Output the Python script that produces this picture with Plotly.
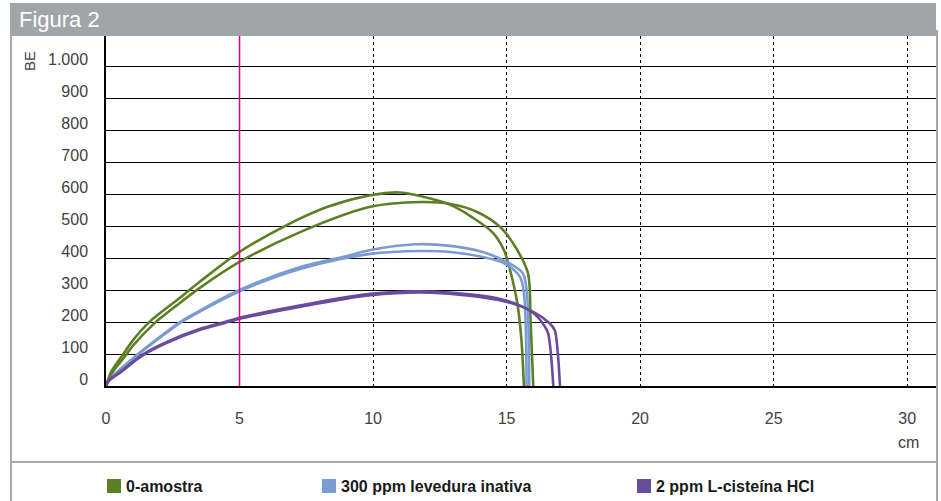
import plotly.graph_objects as go

# ---------------- data ----------------
series_names = ["0-amostra", "300 ppm levedura inativa", "2 ppm L-cisteína HCl"]
series_colors = ["#5d7f24", "#7b9bd3", "#6a4b9c"]

# 0-amostra, replicate A / B
green_a_x = [0, 0.2, 0.65, 1.0, 1.65, 2.65, 3.5, 5, 6.7, 8.3, 9.9, 11.0, 11.8, 12.9, 13.7, 14.5, 14.9, 15.1, 15.4, 15.55, 15.65]
green_a_y = [0, 45, 100, 142, 202, 268, 325, 419, 500, 560, 596, 605, 593, 566, 528, 478, 425, 372, 260, 150, 0]
green_b_x = [0, 0.2, 0.78, 1.0, 1.8, 2.65, 3.5, 5, 7.27, 9.9, 11.8, 12.9, 13.9, 14.8, 15.4, 15.8, 15.9, 16.0]
green_b_y = [0, 38, 100, 125, 195, 252, 306, 388, 481, 560, 575, 569, 544, 494, 425, 353, 200, 0]

# 300 ppm levedura inativa, replicate A / B
blue_a_x = [0, 0.15, 0.64, 1.2, 2.28, 2.77, 3.5, 5, 7.27, 8.95, 9.9, 11.6, 12.9, 14.1, 15.0, 15.6, 15.75, 15.85]
blue_a_y = [0, 22, 60, 100, 170, 200, 235, 300, 372, 405, 425, 443, 438, 419, 388, 353, 300, 0]
blue_b_x = [0, 0.15, 0.64, 1.2, 2.28, 2.77, 3.5, 5, 7.27, 9.9, 11.8, 12.9, 14.1, 14.9, 15.5, 15.65, 15.75]
blue_b_y = [0, 20, 58, 98, 167, 197, 232, 296, 366, 413, 422, 419, 403, 384, 341, 290, 0]

# 2 ppm L-cisteína HCl, replicate A / B
purple_a_x = [0, 0.1, 0.5, 1.4, 2.28, 3.5, 4.45, 5, 7.3, 9.9, 12.2, 14.9, 16.0, 16.4, 16.55, 16.75]
purple_a_y = [0, 18, 42, 100, 138, 178, 200, 213, 252, 288, 295, 269, 228, 190, 166, 0]
purple_b_x = [0, 0.1, 0.5, 1.4, 2.28, 3.5, 4.45, 5, 7.3, 9.9, 12.2, 14.9, 16.0, 16.6, 16.8, 16.9, 17.0]
purple_b_y = [0, 16, 40, 97, 135, 175, 197, 210, 248, 284, 292, 265, 232, 197, 175, 120, 0]

y_tickvals = [0, 100, 200, 300, 400, 500, 600, 700, 800, 900, 1000]
y_ticktext = ["0", "100", "200", "300", "400", "500", "600", "700", "800", "900", "1.000"]
x_tickvals = [0, 5, 10, 15, 20, 25, 30]
x_ticktext = ["0", "5", "10", "15", "20", "25", "30"]
highlight_x = 5

title_text = "Figura 2"
y_title = "BE"
x_title = "cm"

# ---------------- figure ----------------
W, H = 941, 501
ML, MR, MT, MB = 106, 5, 36, 115
PW = W - ML - MR
PH = H - MT - MB


def px_x(p):
    return (p - ML) / PW


def px_y(p):
    return (H - MB - p) / PH


FONT = "Liberation Sans, Arial, Helvetica, sans-serif"
TXT = "#404040"

fig = go.Figure()
groups = [
    [(green_a_x, green_a_y), (green_b_x, green_b_y)],
    [(blue_a_x, blue_a_y), (blue_b_x, blue_b_y)],
    [(purple_a_x, purple_a_y), (purple_b_x, purple_b_y)],
]
for name, color, reps in zip(series_names, series_colors, groups):
    for xs, ys in reps:
        fig.add_trace(go.Scatter(
            x=xs, y=ys, mode="lines", name=name, showlegend=False,
            line=dict(color=color, width=2.6, shape="spline", smoothing=0.9),
            hoverinfo="skip",
        ))

fig.update_layout(
    width=W, height=H,
    margin=dict(l=ML, r=MR, t=MT, b=MB, pad=0),
    paper_bgcolor="white", plot_bgcolor="white",
    font=dict(family=FONT, size=16, color=TXT),
    showlegend=False,
    xaxis=dict(
        range=[0, 31.08], tickvals=x_tickvals, ticktext=x_ticktext,
        showgrid=True, gridcolor="black", gridwidth=1, griddash="3px,3px",
        showline=True, linecolor="black", linewidth=1.5,
        zeroline=False, ticks="", ticklabelstandoff=17,
        tickfont=dict(size=16, color=TXT), fixedrange=True,
    ),
    yaxis=dict(
        range=[0, 1094], tickvals=y_tickvals, ticktext=y_ticktext,
        showgrid=True, gridcolor="black", gridwidth=1,
        showline=True, linecolor="black", linewidth=1.5,
        zeroline=False, ticks="", ticklabelstandoff=13, ticklabelshift=-7,
        tickfont=dict(size=16, color=TXT), fixedrange=True,
    ),
)

shapes = []
# highlight vertical line at x=5
shapes.append(dict(type="line", xref="x", yref="paper", x0=highlight_x, x1=highlight_x,
                   y0=0, y1=1, line=dict(color="#e6007e", width=1.5), layer="above"))
# title bar
shapes.append(dict(type="rect", xref="paper", yref="paper",
                   x0=px_x(10), x1=px_x(936), y0=px_y(36), y1=px_y(3),
                   fillcolor="#a1a5a7", line=dict(width=0), layer="above"))
# frame lines
border = dict(color="#a9a9a9", width=2)
shapes.append(dict(type="line", xref="paper", yref="paper", x0=px_x(11), x1=px_x(11),
                   y0=px_y(36), y1=px_y(501), line=border))
shapes.append(dict(type="line", xref="paper", yref="paper", x0=px_x(937), x1=px_x(937),
                   y0=px_y(30), y1=px_y(501), line=border))
shapes.append(dict(type="line", xref="paper", yref="paper", x0=px_x(11), x1=px_x(937),
                   y0=px_y(462), y1=px_y(462), line=border))

annotations = []
annotations.append(dict(text=title_text, xref="paper", yref="paper", x=px_x(17), y=px_y(19),
                        xanchor="left", yanchor="middle", showarrow=False,
                        font=dict(family=FONT, size=22, color="white")))
annotations.append(dict(text=y_title, xref="paper", yref="paper", x=px_x(30), y=px_y(61),
                        xanchor="center", yanchor="middle", showarrow=False, textangle=-90,
                        font=dict(family=FONT, size=15, color=TXT)))
annotations.append(dict(text=x_title, xref="x", yref="paper", x=30.05, y=px_y(442),
                        xanchor="center", yanchor="middle", showarrow=False,
                        font=dict(family=FONT, size=16, color=TXT)))

# legend (keys + labels)
legend_left = [107, 322, 637]
for name, color, lx in zip(series_names, series_colors, legend_left):
    shapes.append(dict(type="rect", xref="paper", yref="paper",
                       x0=px_x(lx), x1=px_x(lx + 14), y0=px_y(493), y1=px_y(479),
                       fillcolor=color, line=dict(width=0)))
    annotations.append(dict(text="<b>" + name + "</b>", xref="paper", yref="paper",
                            x=px_x(lx + 17), y=px_y(486.5), xanchor="left", yanchor="middle",
                            showarrow=False, font=dict(family=FONT, size=16, color="#1a1a1a")))

fig.update_layout(shapes=shapes, annotations=annotations)
fig.write_html("out.html", config={"displayModeBar": False},
               post_script="document.body.style.margin='0';document.body.style.overflow='hidden';")
